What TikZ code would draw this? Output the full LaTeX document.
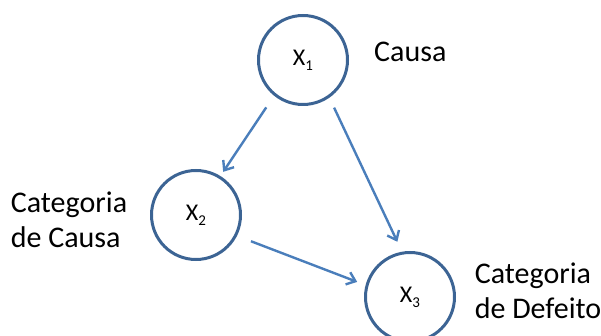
\documentclass[tikz,border=0pt]{standalone}
\usepackage{fontspec}
\setmainfont{Carlito}
\usetikzlibrary{arrows.meta}
\definecolor{ring}{HTML}{3C6494}
\definecolor{edge}{HTML}{4A7EBB}
\newcommand{\subidx}[1]{\raisebox{-0.22em}{\fontsize{15}{15}\selectfont #1}}
\tikzset{
  var/.style={circle, draw=ring, line width=3pt, minimum size=89pt, inner sep=0pt, font=\fontsize{24}{28}\selectfont},
  lbl/.style={align=left, font=\fontsize{30}{35}\selectfont, inner sep=0pt},
  link/.style={draw=edge, line width=2.4pt, -{Straight Barb[length=8pt,width=13pt,line width=2.4pt]}}
}
\begin{document}
\begin{tikzpicture}[x=1pt,y=-1pt]
\useasboundingbox (0,0) rectangle (601,336);
\node[var] (x1) at (303,60) {X\subidx{1}};
\node[var] (x2) at (196,215) {X\subidx{2}};
\node[var] (x3) at (410,297) {X\subidx{3}};
\node[lbl, anchor=west] (c1) at (374,52) {Causa};
\node[lbl] (c2) at (69,220) {Categoria\\de Causa};
\node[lbl] (c3) at (538,291) {Categoria\\de Defeito};
\draw[link, shorten <=14pt, shorten >=5pt] (x1.-129) -- (x2.58);
\draw[link, shorten <=11pt, shorten >=11pt] (x1.-55) -- (x3.100);
\draw[link, shorten <=15pt, shorten >=9pt] (x2.-27) -- (x3.165);
\end{tikzpicture}
\end{document}
